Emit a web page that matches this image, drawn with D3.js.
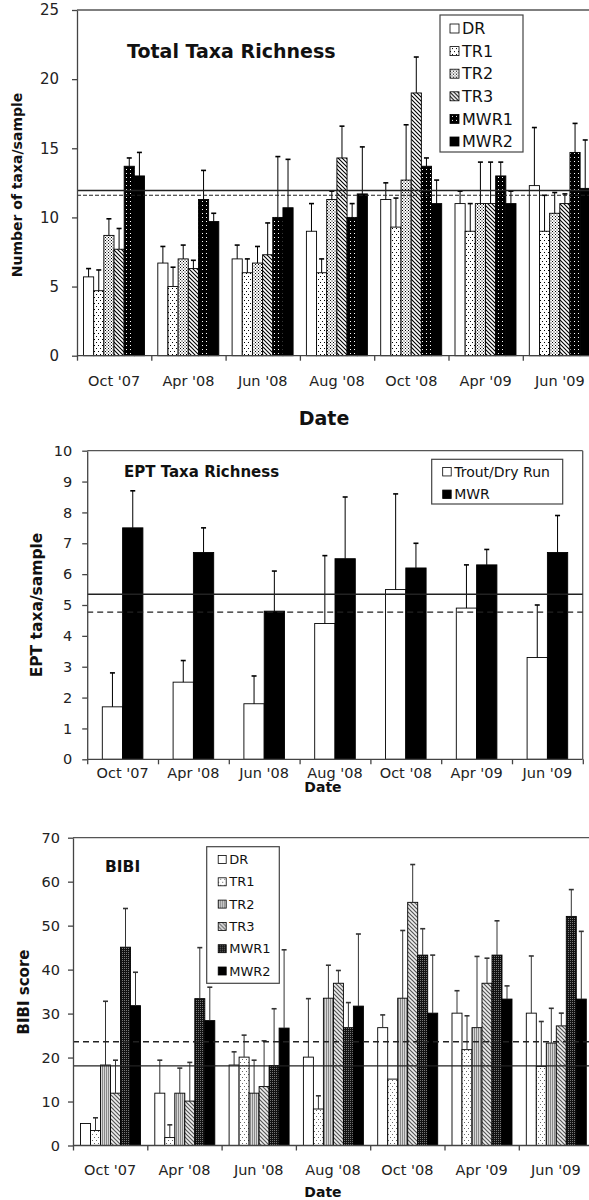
<!DOCTYPE html>
<html>
<head>
<meta charset="utf-8">
<script src="https://cdn.jsdelivr.net/npm/d3@7"></script>
<style>
  body { margin: 0; background: #fff; }
  svg { display: block; font-family: "DejaVu Sans", Verdana, sans-serif; }
</style>
</head>
<body>
<svg id="chart" width="589" height="1200"></svg>
<script>
// -- shared categories -- //
let dates = ["Oct '07", "Apr '08", "Jun '08", "Aug '08", "Oct '08", "Apr '09", "Jun '09"];

// -- total taxa richness (mean, sd) -- //
let taxaSites = ["DR", "TR1", "TR2", "TR3", "MWR1", "MWR2"];
let taxaDR = [5.7, 6.7, 7.0, 9.0, 11.3, 11.0, 12.3];
let taxaDRsd = [0.6, 1.2, 1.0, 2.0, 1.2, 0.9, 4.2];
let taxaTR1 = [4.7, 5.0, 6.0, 6.0, 9.3, 9.0, 9.0];
let taxaTR1sd = [1.5, 1.4, 1.0, 1.0, 2.1, 2.0, 2.6];
let taxaTR2 = [8.7, 7.0, 6.7, 11.3, 12.7, 11.0, 10.3];
let taxaTR2sd = [1.2, 1.0, 1.2, 0.6, 4.0, 3.0, 1.5];
let taxaTR3 = [7.7, 6.3, 7.3, 14.3, 19.0, 11.0, 11.0];
let taxaTR3sd = [1.5, 0.6, 2.3, 2.3, 2.6, 3.0, 0.7];
let taxaMWR1 = [13.7, 11.3, 10.0, 10.0, 13.7, 13.0, 14.7];
let taxaMWR1sd = [0.6, 2.1, 4.4, 1.0, 0.6, 1.0, 2.1];
let taxaMWR2 = [13.0, 9.7, 10.7, 11.7, 11.0, 11.0, 12.1];
let taxaMWR2sd = [1.7, 0.6, 3.5, 3.4, 1.7, 0.9, 3.5];
let taxaRefLines = [11.95, 11.6];
let taxaTicks = [0, 5, 10, 15, 20, 25];

// -- EPT taxa richness -- //
let eptSites = ["Trout/Dry Run", "MWR"];
let eptTDR = [1.7, 2.5, 1.8, 4.4, 5.5, 4.9, 3.3];
let eptTDRsd = [1.1, 0.7, 0.9, 2.2, 3.1, 1.4, 1.7];
let eptMWR = [7.5, 6.7, 4.8, 6.5, 6.2, 6.3, 6.7];
let eptMWRsd = [1.2, 0.8, 1.3, 2.0, 0.8, 0.5, 1.2];
let eptRefLines = [5.35, 4.77];
let eptTicks = [0, 1, 2, 3, 4, 5, 6, 7, 8, 9, 10];

// -- BIBI score -- //
let bibiSites = ["DR", "TR1", "TR2", "TR3", "MWR1", "MWR2"];
let bibiDR = [5.0, 11.9, 18.3, 20.1, 26.8, 30.1, 30.1];
let bibiDRsd = [0, 7.5, 3.0, 13.3, 2.9, 5.1, 13.0];
let bibiTR1 = [3.4, 1.8, 20.1, 8.3, 15.1, 21.8, 18.0];
let bibiTR1sd = [2.9, 2.9, 5.0, 3.0, 0, 7.7, 10.2];
let bibiTR2 = [18.3, 11.9, 11.9, 33.5, 33.5, 26.8, 23.3];
let bibiTR2sd = [14.5, 5.7, 7.5, 7.5, 15.4, 16.2, 7.9];
let bibiTR3 = [11.9, 10.1, 13.4, 36.9, 55.3, 36.9, 27.2];
let bibiTR3sd = [7.5, 8.8, 10.4, 2.9, 8.6, 5.7, 2.9];
let bibiMWR1 = [45.1, 33.4, 18.2, 26.8, 43.3, 43.3, 52.1];
let bibiMWR1sd = [8.8, 11.6, 12.9, 5.7, 6.0, 7.8, 6.1];
let bibiMWR2 = [31.8, 28.4, 26.7, 31.7, 30.1, 33.3, 33.3];
let bibiMWR2sd = [7.6, 7.6, 17.8, 16.4, 13.2, 3.0, 15.4];
let bibiRefLines = [18.1, 23.6];
let bibiTicks = [0, 10, 20, 30, 40, 50, 60, 70];

let svg = d3.select("#chart");
let defs = svg.append("defs");

// -- fill patterns -- //
let makePattern = (id, w, h, bg, draw) => {
    let p = defs.append("pattern")
        .attr("id", id)
        .attr("patternUnits", "userSpaceOnUse")
        .attr("width", w)
        .attr("height", h);
    p.append("rect").attr("width", w).attr("height", h).attr("fill", bg);
    draw(p);
};
let dots = (p, pts, r, col) => pts.forEach(([x, y]) =>
    p.append("rect").attr("x", x).attr("y", y).attr("width", r).attr("height", r).attr("fill", col));

makePattern("p1TR1", 4, 6, "#fff", p => dots(p, [[0, 0], [2, 3]], 1, "#000"));
makePattern("p1TR2", 3, 3, "#fff", p => dots(p, [[0, 0], [1.5, 1.5]], 1, "#000"));
makePattern("p1TR3", 4, 4, "#fff", p => p.append("path").attr("d", "M-1,-1L5,5M-1,3L1,5M3,-1L5,1").attr("stroke", "#000").attr("stroke-width", 1.1));
makePattern("p1MWR1", 4, 4, "#000", p => dots(p, [[2, 1]], 1, "#fff"));
makePattern("p3TR1", 4, 6, "#fff", p => dots(p, [[0, 0], [2, 3]], 1, "#666"));
makePattern("p3TR2", 2, 2, "#d6d6d6", p => p.append("rect").attr("width", 1).attr("height", 2).attr("fill", "#888"));
makePattern("p3TR3", 4, 4, "#eee", p => p.append("path").attr("d", "M-1,-1L5,5M-1,3L1,5M3,-1L5,1").attr("stroke", "#555").attr("stroke-width", 1.2));
makePattern("p3MWR1", 2, 2, "#111", p => dots(p, [[0, 0]], 1, "#777"));

// -- generic grouped bar panel -- //
let drawPanel = (cfg) => {
    let g = svg.append("g");
    let nCat = dates.length;
    let x0 = d3.scaleBand().domain(dates).range([cfg.left, cfg.left + nCat * cfg.step]).padding(0);
    let x1 = d3.scaleBand().domain(cfg.sites).range([cfg.inset, cfg.inset + cfg.groupW]).padding(0);
    let xEdge = d3.scaleLinear().domain([0, nCat]).range(x0.range());
    let y = d3.scaleLinear().domain([0, cfg.yMax]).range([cfg.bottom, cfg.top]);

    // -- frame -- //
    g.append("line")
        .attr("x1", cfg.left).attr("x2", cfg.right)
        .attr("y1", cfg.top).attr("y2", cfg.top)
        .attr("stroke", "#555").attr("stroke-width", 1.3);
    if (cfg.rightFrame) {
        g.append("line")
            .attr("x1", cfg.right).attr("x2", cfg.right)
            .attr("y1", cfg.top).attr("y2", cfg.bottom)
            .attr("stroke", "#555").attr("stroke-width", 1.3);
    }

    // -- bars -- //
    let rows = [];
    dates.forEach((d, i) => cfg.sites.forEach((s, j) =>
        rows.push({ date: d, site: s, v: cfg.means[j][i], sd: cfg.sds[j][i], fill: cfg.fills[j] })));

    g.selectAll(".bar")
        .data(rows)
        .enter()
        .append("rect")
        .attr("class", "bar")
        .attr("x", d => x0(d.date) + x1(d.site))
        .attr("y", d => y(d.v))
        .attr("width", x1.bandwidth())
        .attr("height", d => y(0) - y(d.v))
        .style("fill", d => d.fill)
        .style("stroke", "#000")
        .style("stroke-width", 0.9);

    // -- error bars (upper only) -- //
    let eb = g.selectAll(".err")
        .data(rows.filter(d => d.sd > 0))
        .enter()
        .append("g")
        .attr("class", "err")
        .attr("stroke", cfg.errColor)
        .attr("stroke-width", 1);
    eb.append("line")
        .attr("x1", d => x0(d.date) + x1(d.site) + x1.bandwidth() / 2)
        .attr("x2", d => x0(d.date) + x1(d.site) + x1.bandwidth() / 2)
        .attr("y1", d => y(d.v))
        .attr("y2", d => y(d.v + d.sd));
    eb.append("line")
        .attr("x1", d => x0(d.date) + x1(d.site) + x1.bandwidth() / 2 - 2.5)
        .attr("x2", d => x0(d.date) + x1(d.site) + x1.bandwidth() / 2 + 2.5)
        .attr("y1", d => y(d.v + d.sd))
        .attr("y2", d => y(d.v + d.sd))
        .attr("stroke-width", 1.6);

    // -- reference lines -- //
    g.selectAll(".ref")
        .data(cfg.refLines)
        .enter()
        .append("line")
        .attr("class", "ref")
        .attr("x1", cfg.left)
        .attr("x2", cfg.right)
        .attr("y1", d => y(d))
        .attr("y2", d => y(d))
        .attr("stroke", "#222")
        .attr("stroke-width", (d, i) => cfg.refWidths[i])
        .attr("stroke-dasharray", (d, i) => cfg.refDash[i]);

    // -- y axis -- //
    let yAxis = g.append("g")
        .attr("transform", `translate(${cfg.left},0)`)
        .call(d3.axisLeft(y).tickValues(cfg.ticks).tickSize(5).tickSizeOuter(0).tickPadding(cfg.yPad));
    yAxis.selectAll("path, line").attr("stroke", "#444").attr("stroke-width", 1.3);
    yAxis.selectAll("text").attr("font-size", cfg.yFont).attr("fill", "#222")
        .attr("font-family", "DejaVu Sans, Verdana, sans-serif");

    // -- x axis: tick marks at category edges, labels at centres -- //
    let xAxis = g.append("g")
        .attr("transform", `translate(0,${cfg.bottom})`)
        .call(d3.axisBottom(xEdge).tickValues(d3.range(nCat + 1)).tickSize(5).tickSizeOuter(0).tickFormat(""));
    xAxis.select(".domain").attr("d", `M${cfg.left},0H${cfg.right}`);
    xAxis.selectAll("path, line").attr("stroke", "#444").attr("stroke-width", 1.3);

    g.selectAll(".xlab")
        .data(dates)
        .enter()
        .append("text")
        .attr("class", "xlab")
        .attr("x", d => x0(d) + x0.bandwidth() / 2)
        .attr("y", cfg.xLabY)
        .attr("dy", "0.35em")
        .attr("text-anchor", "middle")
        .attr("font-size", cfg.xFont)
        .attr("fill", "#222")
        .text(d => d);

    // -- axis titles -- //
    g.append("text")
        .attr("transform", `translate(${cfg.yTitleX},${cfg.yTitleY}) rotate(-90)`)
        .attr("text-anchor", "middle")
        .attr("dy", "0.35em")
        .attr("font-weight", "bold")
        .attr("font-size", cfg.yTitleFont)
        .attr("fill", "#111")
        .text(cfg.yTitle);
    g.append("text")
        .attr("x", cfg.dateX)
        .attr("y", cfg.dateY)
        .attr("dy", "0.35em")
        .attr("text-anchor", "middle")
        .attr("font-weight", "bold")
        .attr("font-size", cfg.dateFont)
        .attr("fill", "#111")
        .text("Date");

    // -- panel title -- //
    g.append("text")
        .attr("x", cfg.titleX)
        .attr("y", cfg.titleY)
        .attr("dy", "0.35em")
        .attr("font-weight", "bold")
        .attr("font-size", cfg.titleFont)
        .attr("fill", "#111")
        .text(cfg.title);

    // -- legend -- //
    let L = cfg.legend;
    g.append("rect")
        .attr("x", L.x).attr("y", L.y)
        .attr("width", L.w).attr("height", L.h)
        .attr("fill", "#fff").attr("stroke", "#444").attr("stroke-width", 1.2);
    let items = g.selectAll(".leg")
        .data(cfg.sites)
        .enter()
        .append("g")
        .attr("class", "leg")
        .attr("transform", (d, i) => `translate(${L.x + L.padX},${L.y0 + i * L.dy})`);
    items.append("rect")
        .attr("x", 0).attr("y", -L.sq / 2)
        .attr("width", L.sq).attr("height", L.sq)
        .attr("fill", (d, i) => cfg.fills[i])
        .attr("stroke", "#000").attr("stroke-width", 0.8);
    items.append("text")
        .attr("x", L.sq + 3)
        .attr("dy", "0.36em")
        .attr("font-size", L.font)
        .attr("fill", "#111")
        .text(d => d);
};

// -- panel 1: total taxa richness -- //
drawPanel({
    sites: taxaSites,
    means: [taxaDR, taxaTR1, taxaTR2, taxaTR3, taxaMWR1, taxaMWR2],
    sds: [taxaDRsd, taxaTR1sd, taxaTR2sd, taxaTR3sd, taxaMWR1sd, taxaMWR2sd],
    fills: ["#fff", "url(#p1TR1)", "url(#p1TR2)", "url(#p1TR3)", "url(#p1MWR1)", "#000"],
    errColor: "#000",
    left: 77, right: 600, top: 10, bottom: 355.7, step: 74.3, inset: 6.5, groupW: 61,
    yMax: 25, ticks: taxaTicks, yPad: 13, yFont: 15,
    refLines: taxaRefLines, refWidths: [1.4, 1.1], refDash: ["none", "4,2"],
    xLabY: 381, xFont: 14.5,
    yTitle: "Number of taxa/sample", yTitleX: 17, yTitleY: 185, yTitleFont: 14,
    dateX: 324, dateY: 418, dateFont: 19,
    title: "Total Taxa Richness", titleX: 127, titleY: 51, titleFont: 19,
    legend: { x: 440, y: 15, w: 83, h: 137, padX: 10, y0: 28.5, dy: 22.6, sq: 9, font: 16 }
});

// -- panel 2: EPT taxa richness -- //
drawPanel({
    sites: eptSites,
    means: [eptTDR, eptMWR],
    sds: [eptTDRsd, eptMWRsd],
    fills: ["#fff", "#000"],
    errColor: "#000",
    left: 87.2, right: 582.7, rightFrame: true, top: 450.7, bottom: 759.3, step: 70.8, inset: 15.1, groupW: 40.6,
    yMax: 10, ticks: eptTicks, yPad: 10, yFont: 14.5,
    refLines: eptRefLines, refWidths: [1.4, 1.4], refDash: ["none", "6,4"],
    xLabY: 773, xFont: 14.5,
    yTitle: "EPT taxa/sample", yTitleX: 37, yTitleY: 605, yTitleFont: 15.5,
    dateX: 323, dateY: 787, dateFont: 14,
    title: "EPT Taxa Richness", titleX: 124, titleY: 472, titleFont: 15,
    legend: { x: 431.7, y: 459.3, w: 131, h: 44.7, padX: 11, y0: 471.7, dy: 22.6, sq: 8.5, font: 14 }
});

// -- panel 3: BIBI -- //
drawPanel({
    sites: bibiSites,
    means: [bibiDR, bibiTR1, bibiTR2, bibiTR3, bibiMWR1, bibiMWR2],
    sds: [bibiDRsd, bibiTR1sd, bibiTR2sd, bibiTR3sd, bibiMWR1sd, bibiMWR2sd],
    fills: ["#fff", "url(#p3TR1)", "url(#p3TR2)", "url(#p3TR3)", "url(#p3MWR1)", "#000"],
    errColor: "#333",
    left: 73, right: 600, top: 837.7, bottom: 1145.5, step: 74.3, inset: 7.5, groupW: 60,
    yMax: 70, ticks: bibiTicks, yPad: 8, yFont: 14.5,
    refLines: bibiRefLines, refWidths: [1.4, 1.6], refDash: ["none", "6,4"],
    xLabY: 1170, xFont: 14.5,
    yTitle: "BIBI score", yTitleX: 24, yTitleY: 992, yTitleFont: 15,
    dateX: 323, dateY: 1192, dateFont: 14,
    title: "BIBI", titleX: 105, titleY: 867, titleFont: 15.5,
    legend: { x: 206.7, y: 846.7, w: 72.6, h: 136.6, padX: 11.5, y0: 859.5, dy: 22.3, sq: 8, font: 13 }
});
</script>
</body>
</html>
